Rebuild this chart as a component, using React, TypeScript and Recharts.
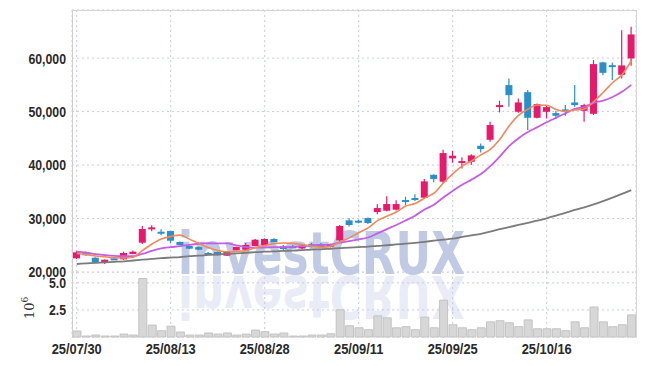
import React from 'react';
import { Bar, CartesianGrid, ComposedChart, Line, XAxis, YAxis } from 'recharts';

const dates = [
  '25/07/30', '25/07/31', '25/08/01', '25/08/04', '25/08/05', '25/08/06', '25/08/07', '25/08/08', '25/08/11', '25/08/12',
  '25/08/13', '25/08/14', '25/08/18', '25/08/19', '25/08/20', '25/08/21', '25/08/22', '25/08/25', '25/08/26', '25/08/27',
  '25/08/28', '25/08/29', '25/09/01', '25/09/02', '25/09/03', '25/09/04', '25/09/05', '25/09/08', '25/09/09', '25/09/10',
  '25/09/11', '25/09/12', '25/09/15', '25/09/16', '25/09/17', '25/09/18', '25/09/19', '25/09/22', '25/09/23', '25/09/24',
  '25/09/25', '25/09/26', '25/09/29', '25/09/30', '25/10/01', '25/10/02', '25/10/10', '25/10/13', '25/10/14', '25/10/15',
  '25/10/16', '25/10/17', '25/10/20', '25/10/21', '25/10/22', '25/10/23', '25/10/24', '25/10/27', '25/10/28', '25/10/29',
];

const opens = [
  22560, 23680, 22670, 21870, 22550, 22370, 23360, 25480, 27980, 27530,
  27660, 25610, 24860, 24670, 23560, 23740, 23050, 24050, 24170, 24860,
  25050, 26170, 24800, 24800, 24430, 25180, 25180, 24730, 25920, 29660,
  29600, 30090, 31210, 31460, 31650, 33460, 33830, 33890, 38180, 36890,
  41250, 40650, 40620, 43610, 44730, 51100, 54950, 49960, 53640, 48840,
  49960, 49720, 50410, 51710, 50150, 49590, 59200, 58690, 56880, 59940,
];
const closes = [
  23680, 23120, 21740, 22300, 22450, 23550, 23800, 28040, 28350, 27160,
  25850, 25050, 24360, 24170, 23450, 23120, 23800, 24670, 25050, 26040,
  26170, 25550, 24300, 24680, 24920, 24670, 24650, 25180, 28600, 28790,
  29480, 29160, 31960, 32710, 32710, 33150, 33460, 36950, 37380, 42240,
  41740, 40750, 41810, 43000, 47480, 51220, 53080, 51710, 48840, 51400,
  50840, 49220, 49960, 51210, 51210, 58880, 57250, 58380, 58630, 64430,
];
const highs = [
  23900, 23850, 22750, 22350, 22750, 23800, 24000, 28600, 28730, 27980,
  27700, 25700, 24950, 24750, 23750, 23800, 23900, 24750, 25420, 26150,
  26300, 26300, 25050, 25050, 25050, 25420, 25420, 25300, 28790, 30040,
  29800, 30200, 32650, 34150, 33400, 34080, 34520, 37380, 38300, 42860,
  42620, 41440, 42000, 44050, 48090, 52020, 56210, 52460, 54020, 51500,
  51210, 50090, 51210, 54950, 51460, 59630, 59300, 59200, 65230, 65850,
];
const lows = [
  22450, 23050, 21700, 21500, 22300, 22300, 23300, 25230, 27600, 26860,
  25360, 25000, 24300, 24100, 23250, 23050, 23000, 24000, 24100, 24800,
  24950, 25500, 23950, 24500, 24300, 24600, 24550, 24600, 25700, 28500,
  29100, 29000, 30790, 31350, 31500, 32520, 33300, 33700, 36770, 36500,
  40430, 39380, 40000, 42370, 44350, 49850, 50900, 49800, 46540, 48700,
  48720, 48600, 49220, 50900, 48090, 49350, 56820, 55890, 56210, 58560,
];

// moving averages
const ma5 = [
  23450, 23300, 23000, 22850, 22660, 22630, 22770, 24030, 25240, 26180,
  26640, 26890, 26150, 25320, 24580, 24030, 23780, 23840, 24020, 24540,
  24950, 25310, 25420, 25350, 25150, 24830, 24650, 24830, 25610, 26380,
  27350, 28250, 29610, 30430, 31210, 32340, 32800, 33800, 34730, 36640,
  38350, 39800, 40770, 41900, 42940, 44780, 47310, 49290, 50450, 51240,
  51180, 50400, 50050, 50300, 50490, 51860, 53560, 55390, 56870, 59510,
];
const ma10 = [
  23800, 23600, 23350, 23150, 23000, 22950, 22950, 23400, 23950, 24420,
  24640, 24830, 25090, 25280, 25380, 25340, 25340, 25000, 24670, 24560,
  24590, 24640, 24630, 24690, 24830, 24990, 25070, 25130, 25480, 25760,
  26090, 26450, 27220, 28020, 28800, 29650, 30530, 31700, 32580, 33930,
  35150, 36300, 37280, 38310, 39790, 41590, 43550, 45030, 46180, 47090,
  48000, 48850, 49670, 50490, 50860, 51640, 52050, 52720, 53700, 55000,
];
const ma60 = [
  21500, 21600, 21700, 21800, 21900, 22000, 22150, 22300, 22450, 22600,
  22700, 22800, 22950, 23050, 23200, 23300, 23400, 23500, 23600, 23700,
  23800, 23850, 23950, 24000, 24100, 24200, 24250, 24350, 24450, 24550,
  24650, 24750, 24900, 25000, 25150, 25300, 25450, 25650, 25850, 26050,
  26250, 26550, 26850, 27150, 27550, 28000, 28400, 28800, 29200, 29600,
  30050, 30550, 31050, 31600, 32100, 32650, 33250, 33900, 34600, 35300,
];

// volume, millions of shares
const volumes = [
  0.55, 0.09, 0.18, 0.09, 0.09, 0.27, 0.18, 5.4, 1.1, 0.58,
  1.0, 0.46, 0.18, 0.18, 0.37, 0.27, 0.37, 0.18, 0.27, 0.64,
  0.49, 0.27, 0.37, 0.09, 0.09, 0.18, 0.18, 0.3, 2.5, 1.04,
  0.85, 0.67, 1.95, 1.77, 0.85, 0.95, 0.67, 1.83, 0.85, 3.4,
  1.13, 0.85, 0.67, 0.85, 1.4, 1.5, 1.31, 0.95, 1.58, 0.76,
  0.76, 0.76, 0.58, 1.4, 0.85, 2.77, 1.4, 0.95, 1.13, 2.04,
];

const dateTicks = ['25/07/30', '25/08/13', '25/08/28', '25/09/11', '25/09/25', '25/10/16'];
const priceTicks = [20000, 30000, 40000, 50000, 60000];
const volumeTicks = [2.5, 5];

const data = dates.map((date, i) => ({
  date,
  range: [lows[i], highs[i]],
  open: opens[i],
  close: closes[i],
  high: highs[i],
  low: lows[i],
  ma5: ma5[i],
  ma10: ma10[i],
  ma60: ma60[i],
  volume: volumes[i],
}));

const RED = '#e8196b';
const BLUE = '#2a8fcb';
const GRID = '#c6cbe0';
const FONT = "'Liberation Sans', Arial, sans-serif";

// narrow bold labels, squeezed horizontally
// eslint-disable-next-line @typescript-eslint/no-explicit-any
const YTick = (props: any) => {
  const { x, y, payload, fmt } = props;
  return (
    <text
      transform={`translate(${x},${y}) scale(0.82,1)`}
      textAnchor="end"
      dy="0.36em"
      fontSize={15}
      fontWeight="bold"
      fill="#2a2a2a"
      fontFamily={FONT}
    >
      {fmt(payload.value)}
    </text>
  );
};

// eslint-disable-next-line @typescript-eslint/no-explicit-any
const XTick = (props: any) => {
  const { x, y, payload } = props;
  return (
    <text
      transform={`translate(${x},${y}) scale(0.86,1)`}
      textAnchor="middle"
      dy="0.71em"
      fontSize={15}
      fontWeight="bold"
      fill="#2a2a2a"
      fontFamily={FONT}
    >
      {payload.value}
    </text>
  );
};

// eslint-disable-next-line @typescript-eslint/no-explicit-any
const Candle = (props: any) => {
  const { x, y, width, height, payload } = props;
  if (!payload) return null;
  const { open, close, high, low } = payload;
  const top = Math.min(y, y + height);
  const h = Math.abs(height);
  const py = (v: number) => top + ((high - v) / (high - low)) * h;
  const color = close >= open ? RED : BLUE;
  const cx = x + width / 2;
  const bodyTop = py(Math.max(open, close));
  const bodyBot = py(Math.min(open, close));
  return (
    <g>
      <line x1={cx} x2={cx} y1={top} y2={top + h} stroke={color} strokeWidth={1.2} />
      <rect x={x} y={bodyTop} width={width} height={Math.max(2, bodyBot - bodyTop)} fill={color} />
    </g>
  );
};

const Watermark = () => (
  <svg width={645} height={366} style={{ position: 'absolute', left: 0, top: 0 }}>
    <text
      x={178}
      y={274}
      fontSize={58}
      fontWeight="bold"
      fontFamily="'DejaVu Sans', sans-serif"
      textLength={287}
      lengthAdjust="spacingAndGlyphs"
      fill="#b2bddf"
      fillOpacity={0.8}
    >
      investCRUX
    </text>
    <g transform="translate(0,550) scale(1,-1)">
      <text
        x={178}
        y={274}
        fontSize={58}
        fontWeight="bold"
        fontFamily="'DejaVu Sans', sans-serif"
        textLength={287}
        lengthAdjust="spacingAndGlyphs"
        fill="#b2bddf"
        fillOpacity={0.3}
      >
        investCRUX
      </text>
    </g>
  </svg>
);

const VolumeLabel = () => (
  <text transform="translate(34,47) rotate(-90)" fontSize={13} fill="#333" fontFamily="'DejaVu Serif', serif">
    10
    <tspan dy={-6} fontSize={9}>
      6
    </tspan>
  </text>
);

const App = () => {
  return (
    <div style={{ position: 'absolute', left: 0, top: 0, width: 645, height: 366, background: '#fff' }}>
      <Watermark />
      <div style={{ position: 'absolute', left: 0, top: 272 }}>
        <ComposedChart width={645} height={94} data={data} margin={{ top: 0, right: 9, bottom: 0, left: 0 }}>
          <CartesianGrid stroke={GRID} strokeDasharray="2 3" />
          <XAxis
            dataKey="date"
            ticks={dateTicks}
            interval={0}
            height={29}
            axisLine={false}
            tickLine={false}
            tickSize={0}
            tickMargin={6}
            tick={<XTick />}
          />
          <YAxis
            domain={[0, 6]}
            ticks={volumeTicks}
            interval={0}
            width={72}
            axisLine={false}
            tickLine={false}
            tickSize={0}
            tickMargin={6}
            tick={<YTick fmt={(v: number) => v.toFixed(1)} />}
            label={{ content: VolumeLabel }}
          />
          <Bar dataKey="volume" barSize={8} fill="#d7d7d7" stroke="#c3c3c3" isAnimationActive={false} />
        </ComposedChart>
      </div>
      <div style={{ position: 'absolute', left: 0, top: 0 }}>
        <ComposedChart width={645} height={290} data={data} margin={{ top: 10, right: 9, bottom: 18, left: 0 }}>
          <CartesianGrid stroke={GRID} strokeDasharray="2 3" />
          <XAxis dataKey="date" ticks={dateTicks} hide />
          <YAxis
            domain={[20000, 69000]}
            ticks={priceTicks}
            interval={0}
            width={72}
            axisLine={false}
            tickLine={false}
            tickSize={0}
            tickMargin={6}
            tick={<YTick fmt={(v: number) => v.toLocaleString('en-US')} />}
            allowDataOverflow
          />
          <Bar dataKey="range" barSize={7} shape={Candle} isAnimationActive={false} />
          <Line type="monotone" dataKey="ma60" stroke="#7b7b7b" strokeWidth={1.8} dot={false} isAnimationActive={false} />
          <Line type="monotone" dataKey="ma10" stroke="#c65de6" strokeWidth={1.8} dot={false} isAnimationActive={false} />
          <Line type="monotone" dataKey="ma5" stroke="#ef8a5a" strokeWidth={1.6} dot={false} isAnimationActive={false} />
        </ComposedChart>
      </div>
      <div
        style={{
          position: 'absolute',
          left: 72,
          top: 10,
          width: 563,
          height: 327,
          borderTop: '1px solid #d6d6d6',
          borderLeft: '1px solid #cfcfcf',
          borderRight: '1px solid #d6d6d6',
          pointerEvents: 'none',
        }}
      />
    </div>
  );
};

export default App;
